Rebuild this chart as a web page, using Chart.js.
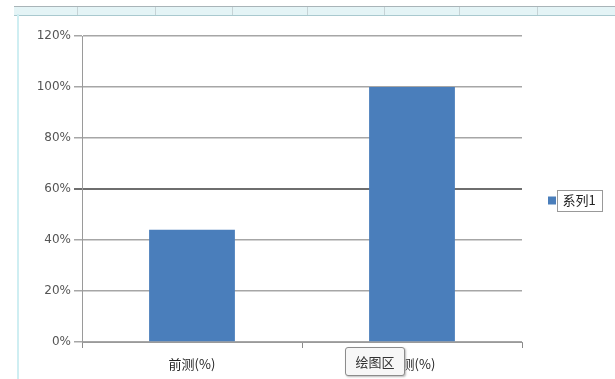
<!DOCTYPE html>
<html>
<head>
<meta charset="utf-8">
<script src="https://cdn.jsdelivr.net/npm/chart.js@4/dist/chart.umd.min.js"></script>
<style>
    html, body { margin: 0; padding: 0; background: #fff; }
    #wrap { position: relative; width: 615px; height: 379px; overflow: hidden; font-family: "Noto Sans CJK SC", "DejaVu Sans", sans-serif; }
    #myChart { position: absolute; left: 0; top: 0; z-index: 2; }
    .topbar { position: absolute; left: 14px; top: 6px; width: 601px; height: 8px; background: #e4f4f6; border-top: 1px solid #a9b4b8; border-bottom: 1px solid #a9c9cf; z-index: 1; }
    .topbar span { position: absolute; top: 0; width: 1px; height: 8px; background: #c6d3d6; }
    .leftbar { position: absolute; left: 17px; top: 14px; width: 2px; height: 365px; background: #cfeef2; z-index: 1; }
    .tip { position: absolute; left: 345px; top: 347px; width: 58px; height: 27px; border: 1px solid #8c8c8c; border-radius: 3px; background: #f7f7f7; font-size: 13px; line-height: 27px; text-align: center; color: #333; z-index: 3; box-shadow: 1px 1px 2px #bbb; }
    .sel { position: absolute; left: 557px; top: 190px; width: 44px; height: 20px; border: 1px solid #999; z-index: 3; }
</style>
</head>
<body>
<div id="wrap">
    <div class="topbar">
        <span style="left:63px"></span><span style="left:141px"></span><span style="left:218px"></span>
        <span style="left:293px"></span><span style="left:370px"></span><span style="left:445px"></span><span style="left:523px"></span>
    </div>
    <div class="leftbar"></div>
    <canvas id="myChart" width="615" height="379"></canvas>
    <div class="sel"></div>
    <div class="tip">绘图区</div>
</div>
<script>
const categories = ['前测(%)', '后测(%)'];
const seriesName = '系列1';
const seriesValues = [0.44, 1.0];
const yTicks = [0, 0.2, 0.4, 0.6, 0.8, 1.0, 1.2];

document.addEventListener('DOMContentLoaded', () => {
    const ctx = document.getElementById('myChart').getContext('2d');

    // legend column fixed to the right strip, nudged to where excel put it
    const legendPlace = {
        id: 'legendPlace',
        beforeInit(chart) {
            const fit = chart.legend.fit;
            chart.legend.fit = function () {
                fit.call(this);
                this.width = 93;
            };
        },
        afterLayout(chart) {
            const lg = chart.legend;
            lg.left += 16; lg.right += 16;
            lg.top -= 7; lg.bottom -= 7;
        }
    };

    const myChart = new Chart(ctx, {
        type: 'bar',
        data: {
            labels: categories,
            datasets: [{
                label: seriesName,
                data: seriesValues,
                backgroundColor: '#4a7ebb',
                borderWidth: 0,
                categoryPercentage: 1,
                barPercentage: 0.39
            }]
        },
        options: {
            responsive: false,
            animation: false,
            layout: { padding: { top: 36, left: 0, right: 0, bottom: 0 } },
            scales: {
                x: {
                    offset: true,
                    grid: { offset: true, drawOnChartArea: false, drawTicks: true, tickLength: 6, color: '#8a8a8a' },
                    border: { display: true, color: '#9a9a9a' },
                    ticks: { color: '#222', font: { size: 13, family: 'Noto Sans CJK SC' }, padding: 8 },
                    afterFit(scale) { scale.height = 37; }
                },
                y: {
                    min: 0,
                    max: 1.2,
                    afterBuildTicks(scale) { scale.ticks = yTicks.map(v => ({ value: v })); },
                    grid: {
                        tickLength: 8,
                        color: (c) => c.tick && Math.abs(c.tick.value - 0.6) < 1e-6 ? '#6e6e6e' : '#a6a6a6',
                        lineWidth: (c) => c.tick && Math.abs(c.tick.value - 0.6) < 1e-6 ? 2 : 1.5
                    },
                    border: { display: true, color: '#9a9a9a' },
                    ticks: {
                        color: '#555',
                        font: { size: 12, family: 'DejaVu Sans' },
                        padding: 3,
                        callback: (v) => Math.round(v * 100) + '%'
                    },
                    afterFit(scale) { scale.width = 82; }
                }
            },
            plugins: {
                legend: {
                    position: 'right',
                    labels: {
                        boxWidth: 8,
                        boxHeight: 8,
                        padding: 10,
                        color: '#222',
                        font: { size: 13, family: 'Noto Sans CJK SC' }
                    }
                },
                tooltip: { enabled: false }
            }
        },
        plugins: [legendPlace]
    });
});
</script>
</body>
</html>
